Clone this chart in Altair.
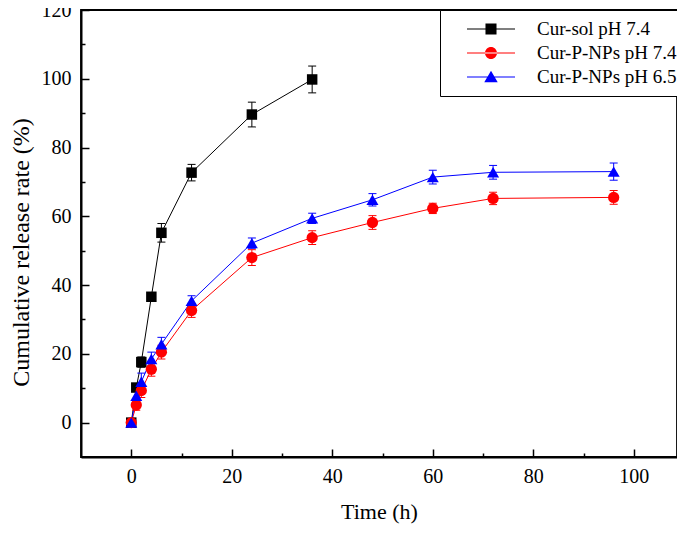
import altair as alt
import pandas as pd

series_names = ["Cur-sol pH 7.4", "Cur-P-NPs pH 7.4", "Cur-P-NPs pH 6.5"]
colors = ["#000000", "#ff0000", "#0000ff"]

time_sol = [0, 1, 2, 4, 6, 12, 24, 36]
release_sol = [0, 10.2, 17.6, 36.6, 55.2, 72.7, 89.6, 99.8]
err_sol = [0.5, 1.0, 1.5, 0.5, 2.7, 2.4, 3.6, 3.9]

time_np = [0, 1, 2, 4, 6, 12, 24, 36, 48, 60, 72, 96]
release_np74 = [0, 5.1, 9.3, 15.5, 20.5, 32.6, 48.0, 53.8, 58.2, 62.3, 65.2, 65.5]
err_np74 = [0.5, 1.5, 2.0, 2.0, 2.0, 2.0, 2.3, 2.0, 2.0, 1.5, 1.8, 2.0]
release_np65 = [0, 7.8, 11.9, 18.5, 22.8, 35.4, 52.2, 59.4, 64.8, 71.4, 72.8, 73.0]
err_np65 = [0.5, 1.5, 2.5, 2.0, 2.0, 1.5, 1.5, 1.5, 1.8, 2.0, 2.0, 2.5]

x_label_values = [0, 20, 40, 60, 80, 100]
y_label_values = [0, 20, 40, 60, 80, 100, 120]
x_tick_values = [0, 10, 20, 30, 40, 50, 60, 70, 80, 90, 100]
y_tick_values = [0, 10, 20, 30, 40, 50, 60, 70, 80, 90, 100, 110, 120]

rows = []
for name, ts, vs, es in [
    (series_names[0], time_sol, release_sol, err_sol),
    (series_names[1], time_np, release_np74, err_np74),
    (series_names[2], time_np, release_np65, err_np65),
]:
    for t, v, e in zip(ts, vs, es):
        rows.append({"series": name, "time": t, "release": v, "lo": v - e, "hi": v + e})
df = pd.DataFrame(rows)

FONT = "Liberation Serif"
W, H = 596, 447

xs = alt.Scale(domain=[-10, 108.6], nice=False, zero=False)
ys = alt.Scale(domain=[-10, 120], nice=False, zero=False)
cs = alt.Scale(domain=series_names, range=colors)

tick_cond = {"condition": {"test": "datum.value % 20 === 0", "value": 8}, "value": 4}

x_axis_labels = alt.Axis(values=x_label_values, ticks=False, tickSize=0, labelPadding=9,
                         labelFont=FONT, labelFontSize=20, labelColor="black",
                         title="Time (h)", titleFont=FONT, titleFontSize=22,
                         titleFontWeight="normal", titleColor="black", titlePadding=15,
                         domain=True, domainColor="black", domainWidth=2, grid=False)
y_axis_labels = alt.Axis(values=y_label_values, ticks=False, tickSize=0, labelPadding=10,
                         labelFont=FONT, labelFontSize=20, labelColor="black",
                         title="Cumulative release rate (%)", titleFont=FONT, titleFontSize=24,
                         titleFontWeight="normal", titleColor="black", titlePadding=8,
                         titleY=242,
                         domain=True, domainColor="black", domainWidth=2, grid=False)
x_axis_ticks = alt.Axis(orient="top", offset=-H, values=x_tick_values, labels=False,
                        domain=False, ticks=True, tickSize=tick_cond, tickWidth=1.5,
                        tickColor="black", title=None, grid=False)
y_axis_ticks = alt.Axis(orient="right", offset=-W, values=y_tick_values, labels=False,
                        domain=False, ticks=True, tickSize=tick_cond, tickWidth=1.5,
                        tickColor="black", title=None, grid=False)

lines = alt.Chart(df).mark_line(strokeWidth=1).encode(
    x=alt.X("time:Q", scale=xs, axis=x_axis_labels),
    y=alt.Y("release:Q", scale=ys, axis=y_axis_labels),
    color=alt.Color("series:N", scale=cs, legend=None),
)

err_rule = alt.Chart(df).mark_rule(strokeWidth=1).encode(
    x=alt.X("time:Q", scale=xs, axis=None),
    y=alt.Y("lo:Q", scale=ys, axis=None),
    y2="hi:Q",
    color=alt.Color("series:N", scale=cs, legend=None),
)
cap_lo = alt.Chart(df).mark_tick(orient="horizontal", size=8, thickness=1, opacity=1).encode(
    x=alt.X("time:Q", scale=xs, axis=None),
    y=alt.Y("lo:Q", scale=ys, axis=None),
    color=alt.Color("series:N", scale=cs, legend=None),
)
cap_hi = alt.Chart(df).mark_tick(orient="horizontal", size=8, thickness=1, opacity=1).encode(
    x=alt.X("time:Q", scale=xs, axis=None),
    y=alt.Y("hi:Q", scale=ys, axis=None),
    color=alt.Color("series:N", scale=cs, legend=None),
)

points = alt.Chart(df).mark_point(filled=True, opacity=1, strokeWidth=0).encode(
    x=alt.X("time:Q", scale=xs, axis=x_axis_ticks),
    y=alt.Y("release:Q", scale=ys, axis=y_axis_ticks),
    color=alt.Color("series:N", scale=cs, legend=None),
    shape=alt.Shape("series:N", scale=alt.Scale(domain=series_names,
                                                range=["square", "circle", "triangle-up"]),
                    legend=None),
    size=alt.Size("series:N", scale=alt.Scale(domain=series_names, range=[110, 144, 170]),
                  legend=None),
)

legend_paths = [
    "M-1,-0.021H1V0.021H-1Z M-0.23,-0.23H0.23V0.23H-0.23Z",
    "M-1,-0.021H1V0.021H-1Z M-0.25,0A0.25,0.25 0 1,0 0.25,0A0.25,0.25 0 1,0 -0.25,0Z",
    "M-1,-0.021H1V0.021H-1Z M0,-0.26L0.28,0.22H-0.28Z",
]
leg = alt.Legend(title=None, orient="none", legendX=359, legendY=0, padding=8,
                 strokeColor="black", fillColor="white", symbolSize=2304,
                 symbolOffset=19, labelOffset=22, labelFont=FONT, labelFontSize=19,
                 labelColor="black", clipHeight=22, rowPadding=2, symbolStrokeWidth=0,
                 labelLimit=0)
legend_layer = alt.Chart(df).transform_filter("datum.time < -100").mark_point(
    filled=True, opacity=1, strokeWidth=0).encode(
    x=alt.X("time:Q", scale=xs, axis=None),
    y=alt.Y("release:Q", scale=ys, axis=None),
    color=alt.Color("series:N", scale=alt.Scale(domain=series_names, range=colors), legend=leg),
    shape=alt.Shape("series:N", scale=alt.Scale(domain=series_names, range=legend_paths), legend=leg),
)

chart = alt.layer(lines, err_rule, cap_lo, cap_hi, points, legend_layer).resolve_axis(
    x="independent", y="independent"
).resolve_scale(
    color="independent", shape="independent"
).properties(
    width=W, height=H,
    autosize=alt.AutoSizeParams(type="none"),
    padding={"left": 73, "top": 2, "right": 0, "bottom": 68},
    background="white",
).configure(font=FONT).configure_axis(
    labelFont=FONT, titleFont=FONT, titleFontWeight="normal", labelColor="black",
    titleColor="black"
).configure_legend(labelFont=FONT).configure_view(stroke="black", strokeWidth=1.8)

chart.save("out.html", embed_options={"renderer": "svg", "actions": False})
